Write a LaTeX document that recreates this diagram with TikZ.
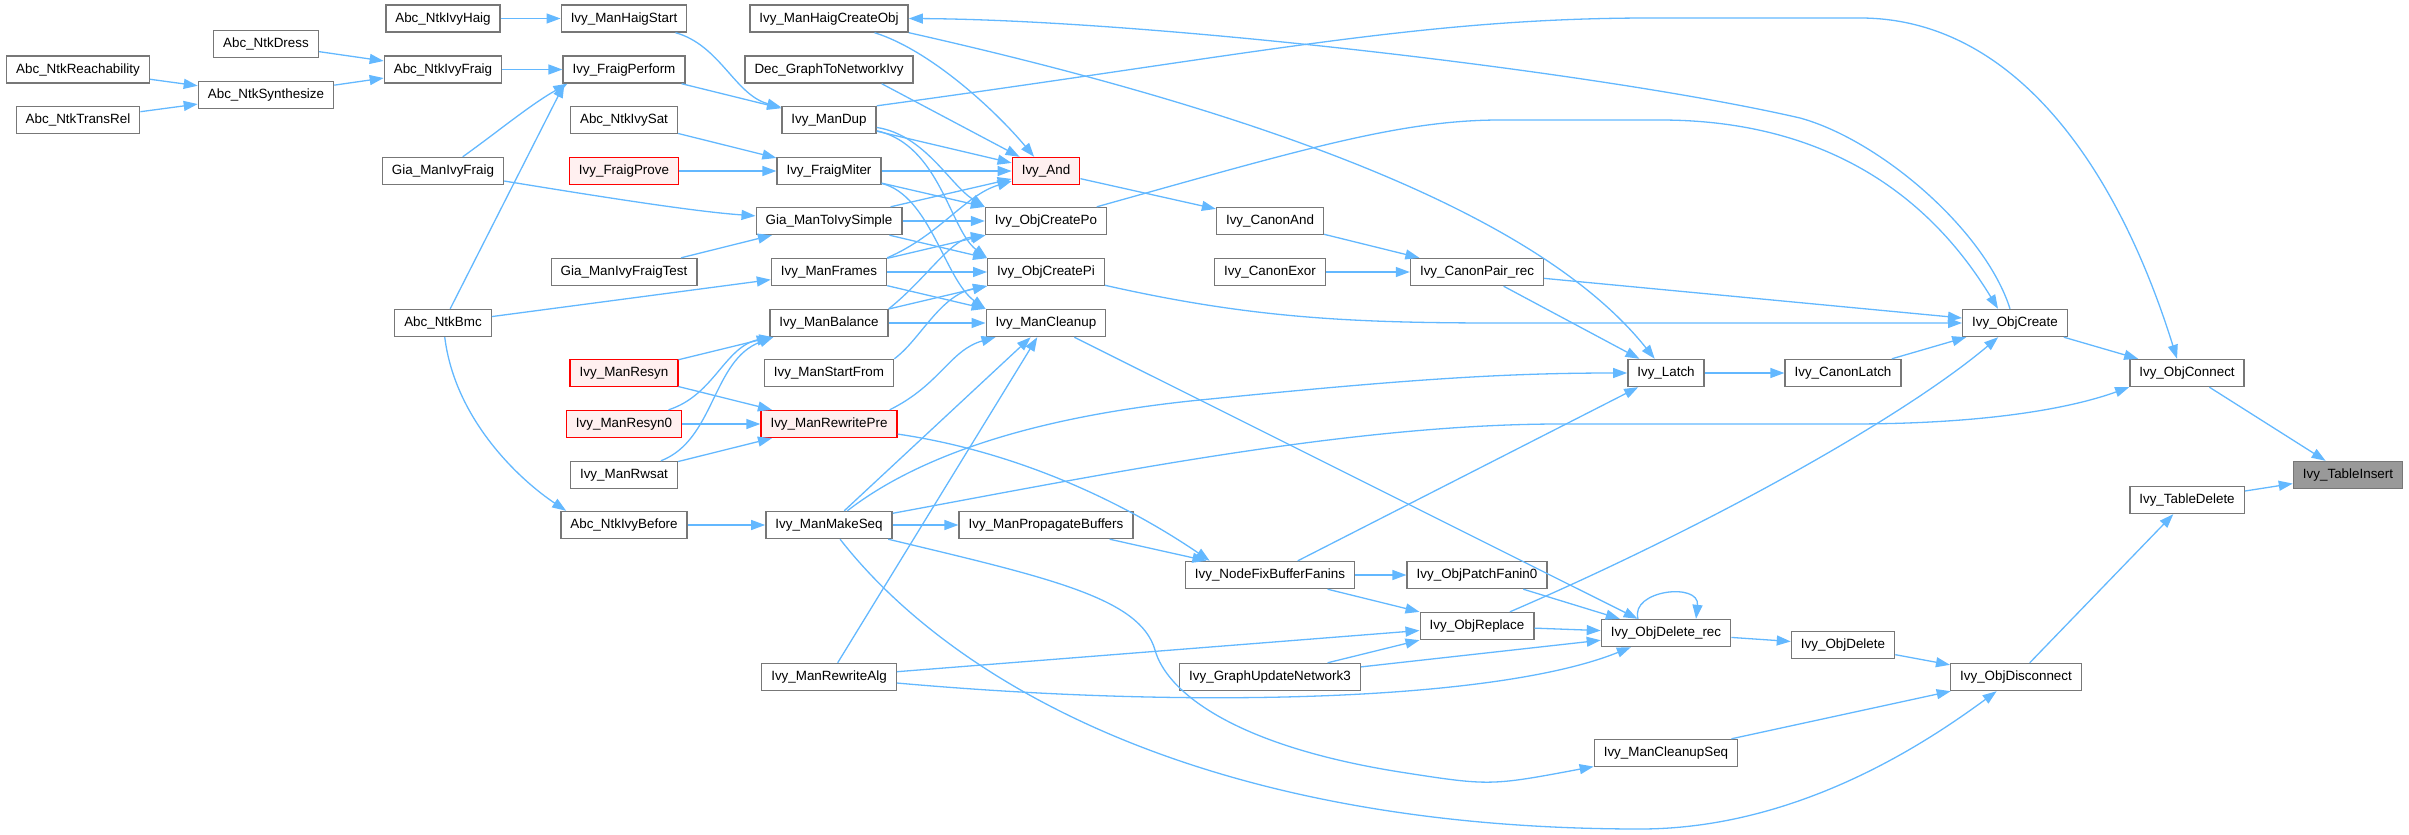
\documentclass[tikz,border=0pt]{standalone}
\usepackage{fontspec}
\setmainfont{Liberation Sans}
\usetikzlibrary{arrows.meta}
\definecolor{edgec}{HTML}{63B8FF}
\definecolor{boxc}{HTML}{777777}
\definecolor{redb}{HTML}{FF0000}
\definecolor{redf}{HTML}{FFF0F0}
\definecolor{rootf}{HTML}{999999}
\begin{document}
\begin{tikzpicture}[x=1pt,y=-1pt,
  fn/.style={draw=boxc, line width=1.4pt, fill=white, minimum height=27pt, inner xsep=9.5pt, inner ysep=0pt,
    text height=10pt, text depth=3pt, font=\fontsize{13.4}{15}\selectfont, text=black},
  rn/.style={fn, draw=redb, fill=redf},
  root/.style={fn, draw=boxc, fill=rootf},
  e/.style={draw=edgec, line width=1.3pt, -{Triangle[length=14pt,width=10pt]}},
]
\useasboundingbox (0,0) rectangle (2409,835);
% nodes
\node[fn] (reach) at (78,69.5) {Abc\_NtkReachability};
\node[fn] (trans) at (78,120) {Abc\_NtkTransRel};
\node[fn] (dress) at (266,44) {Abc\_NtkDress};
\node[fn] (synth) at (266,95) {Abc\_NtkSynthesize};
\node[fn] (ivyhaig) at (443,18.5) {Abc\_NtkIvyHaig};
\node[fn] (ivyfraig) at (443,69.5) {Abc\_NtkIvyFraig};
\node[fn] (giafraig) at (443,171) {Gia\_ManIvyFraig};
\node[fn] (bmc) at (443,323) {Abc\_NtkBmc};
\node[fn] (haigstart) at (624,18.5) {Ivy\_ManHaigStart};
\node[fn] (fperform) at (624,69.5) {Ivy\_FraigPerform};
\node[fn] (ivysat) at (624,120) {Abc\_NtkIvySat};
\node[rn] (fprove) at (624,171) {Ivy\_FraigProve};
\node[fn] (giatest) at (624,272) {Gia\_ManIvyFraigTest};
\node[rn] (resyn) at (624,373) {Ivy\_ManResyn};
\node[rn] (resyn0) at (624,424) {Ivy\_ManResyn0};
\node[fn] (rwsat) at (624,475) {Ivy\_ManRwsat};
\node[fn] (before) at (624,525) {Abc\_NtkIvyBefore};
\node[fn] (haigobj) at (829,18.5) {Ivy\_ManHaigCreateObj};
\node[fn] (dec) at (829,69.5) {Dec\_GraphToNetworkIvy};
\node[fn] (mandup) at (829,120) {Ivy\_ManDup};
\node[fn] (miter) at (829,171) {Ivy\_FraigMiter};
\node[fn] (toivy) at (829,221) {Gia\_ManToIvySimple};
\node[fn] (frames) at (829,272) {Ivy\_ManFrames};
\node[fn] (balance) at (829,323) {Ivy\_ManBalance};
\node[fn] (startfrom) at (829,373) {Ivy\_ManStartFrom};
\node[rn] (rwpre) at (829,424) {Ivy\_ManRewritePre};
\node[fn] (makeseq) at (829,525) {Ivy\_ManMakeSeq};
\node[fn] (rwalg) at (829,677) {Ivy\_ManRewriteAlg};
\node[rn] (and) at (1046,171) {Ivy\_And};
\node[fn] (cpo) at (1046,221) {Ivy\_ObjCreatePo};
\node[fn] (cpi) at (1046,272) {Ivy\_ObjCreatePi};
\node[fn] (cleanup) at (1046,323) {Ivy\_ManCleanup};
\node[fn] (propbuf) at (1046,525) {Ivy\_ManPropagateBuffers};
\node[fn] (canand) at (1270,221) {Ivy\_CanonAnd};
\node[fn] (canexor) at (1270,272) {Ivy\_CanonExor};
\node[fn] (fixbuf) at (1270,575) {Ivy\_NodeFixBufferFanins};
\node[fn] (gun3) at (1270,677) {Ivy\_GraphUpdateNetwork3};
\node[fn] (pairrec) at (1477,272) {Ivy\_CanonPair\_rec};
\node[fn] (patch) at (1477,575) {Ivy\_ObjPatchFanin0};
\node[fn] (replace) at (1477,626) {Ivy\_ObjReplace};
\node[fn] (latch) at (1666,373) {Ivy\_Latch};
\node[fn] (delrec) at (1666,633) {Ivy\_ObjDelete\_rec};
\node[fn] (cleanseq) at (1666,753) {Ivy\_ManCleanupSeq};
\node[fn] (canlatch) at (1843,373) {Ivy\_CanonLatch};
\node[fn] (objdel) at (1843,645) {Ivy\_ObjDelete};
\node[fn] (create) at (2015,323) {Ivy\_ObjCreate};
\node[fn] (disconn) at (2016,677) {Ivy\_ObjDisconnect};
\node[fn] (connect) at (2187,373) {Ivy\_ObjConnect};
\node[fn] (tdel) at (2187,500) {Ivy\_TableDelete};
\node[root] (tins) at (2348,475) {Ivy\_TableInsert};
% left edges
\draw[e] (reach) -- (synth);
\draw[e] (trans) -- (synth);
\draw[e] (dress) -- (ivyfraig);
\draw[e] (synth) -- (ivyfraig);
\draw[e] (ivyhaig) -- (haigstart);
\draw[e] (ivyfraig) -- (fperform);
\draw[e] (giafraig) .. controls (500,130) and (530,105) .. ([xshift=5pt]fperform.south west);
\draw[e] (bmc) -- ([xshift=2pt]fperform.south west);
\draw[e] (giafraig) .. controls (620,200) and (700,212) .. (toivy);
\draw[e] (bmc) -- (frames);
\draw[e] (bmc) .. controls (455,420) and (520,480) .. ([xshift=6pt]before.north west);
\draw[e] (haigstart) .. controls (720,45) and (735,95) .. (mandup);
\draw[e] (fperform) -- (mandup);
\draw[e] (ivysat) -- (miter);
\draw[e] (fprove) -- (miter);
\draw[e] (giatest) -- (toivy);
\draw[e] (resyn) -- (balance);
\draw[e] (resyn) -- (rwpre);
\draw[e] (resyn0) .. controls (715,395) and (725,345) .. ([xshift=4pt]balance.south west);
\draw[e] (resyn0) -- (rwpre);
\draw[e] (rwsat) .. controls (715,440) and (712,360) .. ([xshift=4pt]balance.south west);
\draw[e] (rwsat) -- (rwpre);
\draw[e] (before) -- (makeseq);
% into Ivy_And
\draw[e] (haigobj) .. controls (930,50) and (995,110) .. (and);
\draw[e] ([xshift=-32pt]dec.south east) -- ([xshift=8pt]and.north west);
\draw[e] (mandup) -- (and);
\draw[e] (miter) -- (and);
\draw[e] (toivy) -- (and);
\draw[e] (frames.north east) .. controls (940,235) and (965,195) .. (and);
% into create po / pi / cleanup
\draw[e] (mandup) .. controls (925,135) and (950,185) .. (cpo.north west);
\draw[e] (miter) -- (cpo);
\draw[e] (toivy) -- (cpo);
\draw[e] (frames) -- (cpo);
\draw[e] (balance.north east) .. controls (925,280) and (950,240) .. (cpo.south west);
\draw[e] (mandup) .. controls (940,145) and (950,230) .. (cpi.north west);
\draw[e] (toivy) -- (cpi);
\draw[e] (frames) -- (cpi);
\draw[e] (balance) -- (cpi);
\draw[e] (startfrom.north east) .. controls (920,340) and (940,295) .. (cpi.south west);
\draw[e] (miter) .. controls (930,195) and (945,280) .. (cleanup.north west);
\draw[e] (frames) -- (cleanup);
\draw[e] (balance) -- (cleanup);
\draw[e] ([xshift=-8pt]rwpre.north east) .. controls (940,385) and (950,350) .. (cleanup);
\draw[e] (makeseq) -- (cleanup);
\draw[e] (rwalg) -- (cleanup);
% long top edges
\draw[e] (mandup.north east) .. controls (1250,55) and (1420,18) .. (1650,18) -- (1860,18) .. controls (2010,18) and (2115,160) .. ([xshift=-10pt]connect.north);
\draw[e] ([xshift=-5pt]create.north) .. controls (1985,230) and (1880,140) .. (1800,118) .. controls (1600,72) and (1150,20) .. (haigobj.east);
\draw[e] (haigobj.south east) .. controls (1350,132) and (1560,240) .. (latch);
\draw[e] (cpo) .. controls (1300,150) and (1400,120) .. (1500,120) -- (1660,120) .. controls (1860,120) and (1950,230) .. ([xshift=-17pt]create.north);
% canon
\draw[e] (and) -- (canand);
\draw[e] (canand) -- (pairrec);
\draw[e] (canexor) -- (pairrec);
\draw[e] (pairrec) -- (create);
\draw[e] (pairrec) -- (latch);
\draw[e] (cpi) .. controls (1250,318) and (1350,323) .. (1500,323) -- (create);
\draw[e] (cleanup) -- (delrec);
\draw[e] (makeseq) .. controls (900,470) and (1000,420) .. (1200,400) .. controls (1400,380) and (1500,373) .. (latch);
\draw[e] (makeseq) .. controls (1100,475) and (1350,424) .. (1560,424) -- (1850,424) .. controls (2000,424) and (2080,405) .. (connect.south west);
\draw[e] (fixbuf) -- (latch);
\draw[e] (replace) .. controls (1700,530) and (1900,420) .. (create);
\draw[e] (latch) -- (canlatch);
\draw[e] (canlatch) -- (create);
\draw[e] (create) -- (connect);
\draw[e] (connect) -- (tins);
\draw[e] (tdel) -- (tins);
\draw[e] (disconn) -- (tdel);
\draw[e] (objdel) -- (disconn);
\draw[e] (cleanseq) -- (disconn);
% lower edges
\draw[e] (makeseq) -- (propbuf);
\draw[e] (makeseq) .. controls (950,680) and (1200,829) .. (1640,829) .. controls (1800,829) and (1930,740) .. (disconn);
\draw[e] (makeseq) .. controls (1050,578) and (1140,598) .. (1155,650) .. controls (1166,690) and (1230,745) .. (1400,772) .. controls (1490,786) .. (cleanseq);
\draw[e] (rwalg) -- (replace);
\draw[e] (rwalg) .. controls (1200,710) and (1500,700) .. (delrec);
\draw[e] (gun3) -- (replace);
\draw[e] (gun3) -- (delrec);
\draw[e] (fixbuf) -- (patch);
\draw[e] (fixbuf) -- (replace);
\draw[e] (patch) -- (delrec);
\draw[e] (replace) -- (delrec);
\draw[e] (delrec) -- (objdel);
\draw[e] ([xshift=-28pt]delrec.north) .. controls (1630,590) and (1700,582) .. ([xshift=30pt]delrec.north);
\draw[e] (propbuf) -- (fixbuf);
\draw[e] (rwpre) .. controls (1040,455) and (1150,520) .. ([xshift=25pt]fixbuf.north west);
\end{tikzpicture}
\end{document}
